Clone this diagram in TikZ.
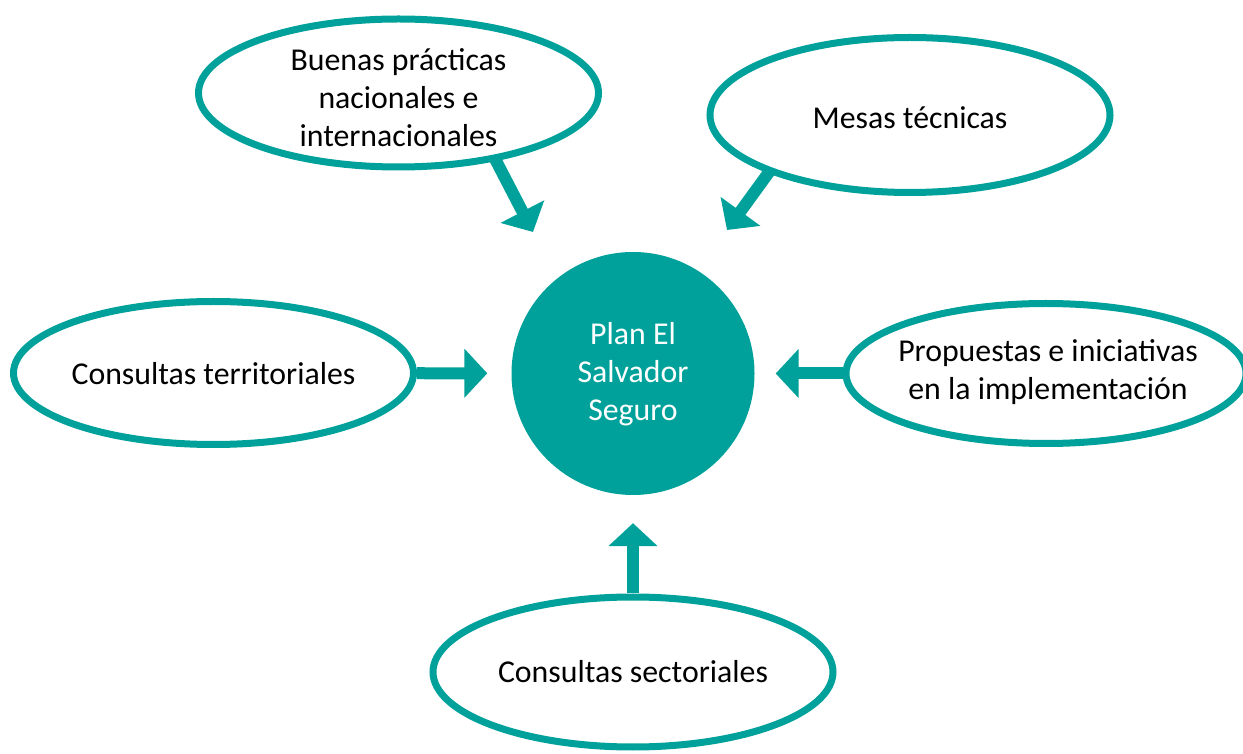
\documentclass[tikz,border=0pt]{standalone}
\usepackage{fontspec}
\setmainfont{Carlito}
\usetikzlibrary{arrows.meta,shapes.geometric}
\definecolor{teal1}{HTML}{00A19A}
\begin{document}
\begin{tikzpicture}[x=1pt,y=1pt,
  ell/.style={ellipse,draw=teal1,line width=7pt,fill=white,inner sep=0pt},
  lbl/.style={align=center,font=\fontsize{31.8}{38}\selectfont,text=black,inner sep=0pt},
  blockarrow/.style={draw=teal1,line width=12pt,-{Triangle[width=48pt,length=23pt]}}]
\useasboundingbox (0,0) rectangle (1243,753);
% centre circle
\node[circle,fill=teal1,minimum size=243pt,inner sep=0pt] (c) at (633,379.5) {};
\node[lbl,text=white] (ct) at (633,379) {Plan El\\Salvador\\Seguro};
% arrow coordinates for the diagonal arrows
\coordinate (sA) at (492,600);
\coordinate (tA) at (533,521);
\coordinate (sB) at (780,596);
\coordinate (tB) at (727,523);
\draw[blockarrow] (sA) -- (tA);
\draw[blockarrow] (sB) -- (tB);
% ellipses
\node[ell,minimum width=400pt,minimum height=148pt] (bu) at (398.5,660) {};
\node[ell,minimum width=400pt,minimum height=155pt] (me) at (910,638) {};
\node[ell,minimum width=400pt,minimum height=143pt] (te) at (213.5,380) {};
\node[ell,minimum width=400pt,minimum height=140pt] (pr) at (1046,379.5) {};
\node[ell,minimum width=400pt,minimum height=150pt] (se) at (633,81) {};
% labels
\node[lbl] (but) at (398.5,655) {Buenas prácticas\\nacionales e\\internacionales};
\node[lbl] (met) at (910,635) {Mesas técnicas};
\node[lbl] (tet) at (213.5,379) {Consultas territoriales};
\node[lbl] (prt) at (1048,380.5) {Propuestas e iniciativas\\en la implementación};
\node[lbl] (set) at (633,81) {Consultas sectoriales};
% straight arrows
\draw[blockarrow,shorten >=24pt] (te) -- (c);
\draw[blockarrow,shorten >=21pt] (pr) -- (c);
\draw[blockarrow,shorten >=28pt] (se) -- (c);
\end{tikzpicture}
\end{document}
